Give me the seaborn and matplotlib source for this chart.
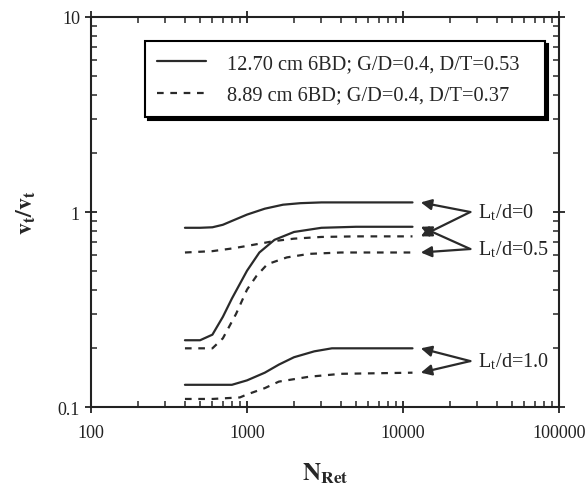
import numpy as np
import pandas as pd
import matplotlib
matplotlib.use("Agg")
import matplotlib.pyplot as plt
import matplotlib.ticker as mticker
import seaborn as sns

sns.set_style("ticks")
plt.rcParams['font.family'] = ['Liberation Serif', 'DejaVu Serif']
plt.rcParams['mathtext.fontset'] = 'stix'

# values (N_Ret, v/v)
n_ld0_solid = [400, 500, 600, 700, 800, 1000, 1300, 1700, 2200, 3000, 5000, 11500]
v_ld0_solid = [0.83, 0.83, 0.835, 0.86, 0.90, 0.97, 1.04, 1.09, 1.11, 1.12, 1.12, 1.12]
n_ld0_dash = [400, 600, 800, 1000, 1500, 2000, 3000, 5000, 11500]
v_ld0_dash = [0.62, 0.63, 0.65, 0.67, 0.71, 0.73, 0.745, 0.75, 0.75]
n_ld05_solid = [400, 500, 600, 700, 800, 1000, 1200, 1500, 2000, 3000, 5000, 11500]
v_ld05_solid = [0.22, 0.22, 0.235, 0.29, 0.36, 0.50, 0.62, 0.72, 0.79, 0.83, 0.84, 0.84]
n_ld05_dash = [400, 600, 700, 850, 1000, 1150, 1350, 1800, 2500, 4000, 11500]
v_ld05_dash = [0.20, 0.20, 0.225, 0.30, 0.40, 0.47, 0.54, 0.585, 0.61, 0.62, 0.62]
n_ld1_solid = [400, 600, 800, 1000, 1300, 1600, 2000, 2700, 3500, 5000, 11500]
v_ld1_solid = [0.13, 0.13, 0.13, 0.137, 0.15, 0.165, 0.18, 0.193, 0.20, 0.20, 0.20]
n_ld1_dash = [400, 600, 900, 1000, 1300, 1600, 2500, 4000, 11500]
v_ld1_dash = [0.11, 0.11, 0.112, 0.116, 0.125, 0.135, 0.143, 0.148, 0.15]

legend_labels = ["12.70 cm 6BD; G/D=0.4, D/T=0.53",
                 "8.89 cm 6BD; G/D=0.4, D/T=0.37"]
ld_labels = ["L$_\\mathregular{t}$/d=0", "L$_\\mathregular{t}$/d=0.5",
             "L$_\\mathregular{t}$/d=1.0"]
x_ticks = [100, 1000, 10000, 100000]
y_ticks = [0.1, 1, 10]

series = [
    (n_ld0_solid, v_ld0_solid, "12.70"), (n_ld0_dash, v_ld0_dash, "8.89"),
    (n_ld05_solid, v_ld05_solid, "12.70"), (n_ld05_dash, v_ld05_dash, "8.89"),
    (n_ld1_solid, v_ld1_solid, "12.70"), (n_ld1_dash, v_ld1_dash, "8.89"),
]

fig = plt.figure(figsize=(5.85, 4.89), dpi=100)
ax = fig.add_axes([0.1556, 0.1656, 0.80, 0.7976])

col = "#2a2a2a"
for i, (n, v, imp) in enumerate(series):
    df = pd.DataFrame({"N": n, "v": v})
    ls = "-" if imp == "12.70" else (0, (3, 3))
    sns.lineplot(data=df, x="N", y="v", ax=ax, color=col, lw=1.6,
                 linestyle=ls, legend=False)

ax.set_xscale("log")
ax.set_yscale("log")
ax.set_xlim(100, 100000)
ax.set_ylim(0.1, 10)
ax.set_xticks(x_ticks, [str(t) for t in x_ticks])
ax.set_yticks(y_ticks, ["0.1", "1", "10"])
ax.xaxis.set_minor_locator(mticker.LogLocator(base=10, subs=np.arange(2, 10)))
ax.yaxis.set_minor_locator(mticker.LogLocator(base=10, subs=np.arange(2, 10)))
ax.xaxis.set_minor_formatter(mticker.NullFormatter())
ax.yaxis.set_minor_formatter(mticker.NullFormatter())
ax.tick_params(which="major", direction="inout", length=9, width=1.3,
               top=True, right=True, labelsize=13, colors="#222")
ax.tick_params(axis="x", which="major", pad=8)
ax.tick_params(which="minor", direction="in", length=4, width=1.1,
               top=True, right=True)
for s in ax.spines.values():
    s.set_linewidth(1.5)
    s.set_color("#222")

ax.set_xlabel(r"$\mathbf{N_{Ret}}$", fontsize=18, labelpad=14)
ax.set_ylabel(r"$\mathbf{v_t/v_t}$", fontsize=17, labelpad=14)

# legend with shadow, stretched to the box width of the original
h1, = ax.plot([], [], color=col, lw=1.6, linestyle="-")
h2, = ax.plot([], [], color=col, lw=1.6, linestyle=(0, (3, 3)))
leg = ax.legend([h1, h2], legend_labels, loc="upper left", mode="expand",
                bbox_to_anchor=(0.115, 0.744, 0.855, 0.194), fontsize=14.7,
                frameon=True, fancybox=False,
                shadow={"color": "black", "alpha": 1},
                edgecolor="black", handlelength=2.4, handletextpad=1.0,
                borderpad=0.6, labelspacing=0.62, borderaxespad=0)
leg.get_frame().set_linewidth(1.5)

# arrows to the curve ends
tip_x = 13000
vertex_x = 27000
groups = [
    (1.0, [1.12, 0.75], ld_labels[0]),
    (0.646, [0.84, 0.62], ld_labels[1]),
    (0.172, [0.20, 0.15], ld_labels[2]),
]
for vy, targets, lab in groups:
    for ty in targets:
        ax.annotate("", xy=(tip_x, ty), xytext=(vertex_x, vy),
                    arrowprops=dict(arrowstyle="-|>", color=col, lw=1.6,
                                    mutation_scale=16, shrinkA=0, shrinkB=0))
    ax.text(vertex_x * 1.12, vy, lab, fontsize=14.5, va="center", ha="left",
            color="#222")

fig.savefig("out.png", dpi=100)
